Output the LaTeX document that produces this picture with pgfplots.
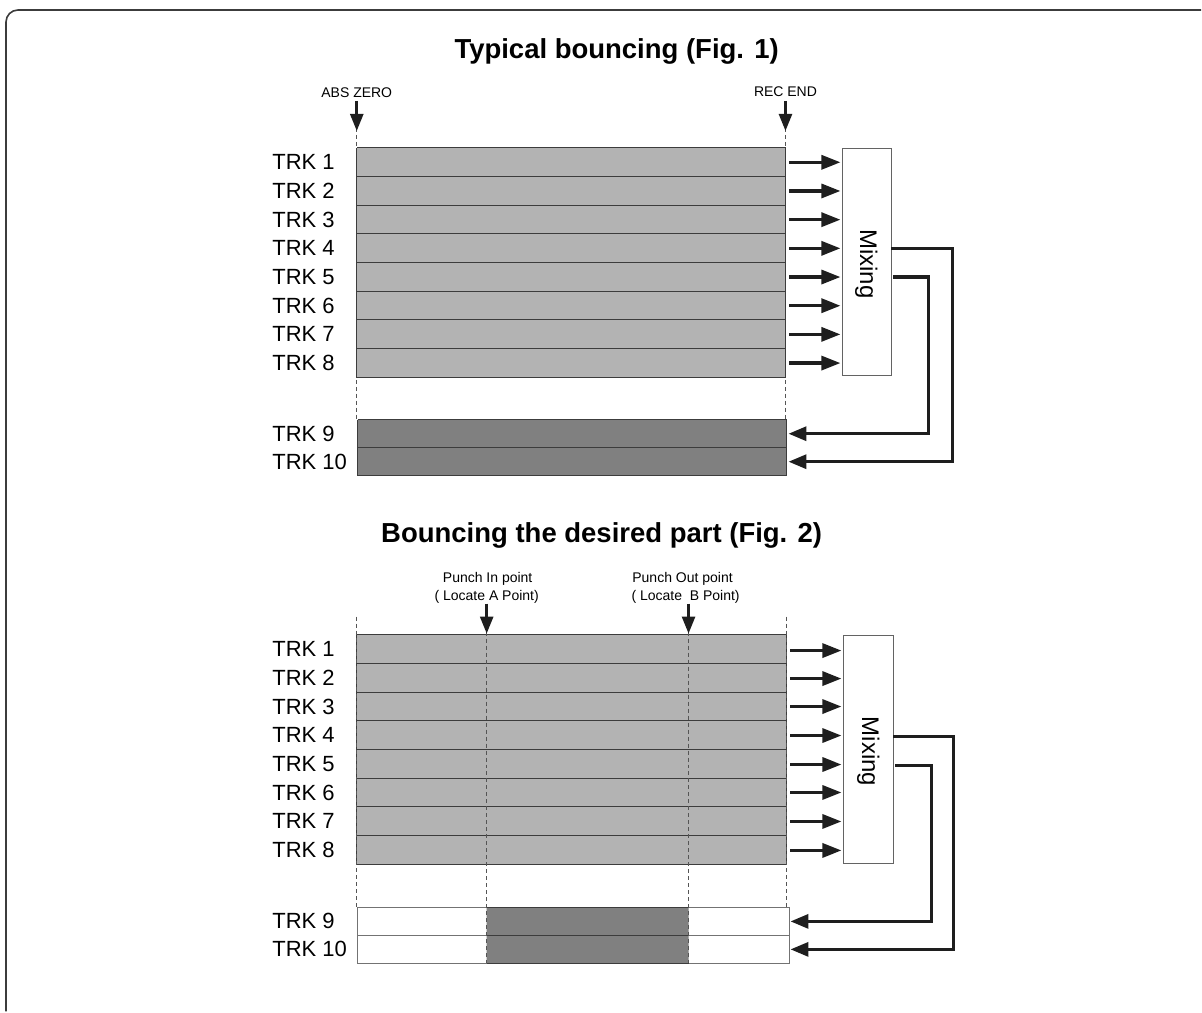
\documentclass[border=0pt]{standalone}
\usepackage{fontspec}
\setmainfont{Liberation Sans}
\usepackage{pgfplots}
\pgfplotsset{compat=1.18}
\usetikzlibrary{arrows.meta}
\definecolor{trklight}{HTML}{B3B3B3}
\definecolor{trkdark}{HTML}{808080}
\definecolor{edge}{HTML}{3C3C3C}
\definecolor{dash}{HTML}{555555}
\definecolor{arr}{HTML}{1E1E1E}
\tikzset{
  trk/.style={font=\fontsize{22}{24}\selectfont, anchor=west},
  small/.style={font=\fontsize{14}{16}\selectfont},
  ttl/.style={font=\fontsize{27.5}{32}\selectfont\bfseries},
  rowline/.style={draw=edge, line width=1pt},
  dsh/.style={draw=dash, line width=0.9pt, dash pattern=on 4pt off 3pt},
  harr/.style={draw=arr, line width=3.2pt, -{Triangle[length=19pt,width=14pt]}},
  varr/.style={draw=arr, line width=2.6pt, -{Triangle[length=17pt,width=13pt]}},
  route/.style={draw=arr, line width=3.3pt, line join=miter, -{Triangle[length=18pt,width=14pt]}},
}
\begin{document}
\begin{tikzpicture}
\begin{axis}[scale only axis, width=1202pt, height=1012pt,
  xmin=0, xmax=1202, ymin=0, ymax=1012, y dir=reverse,
  axis lines=none, clip=false,
]
% bounding box
\addplot[draw=none] coordinates {(0,0) (1202,1012)};
% frame
\addplot[draw=edge, line width=1.6pt, rounded corners=12pt] coordinates {(6,1012) (6,10) (1202,10)};

% ================= Fig. 1 =================
\node[ttl] at (axis cs:617,51.5) {Typical bouncing (Fig. 1)};
\node[small] at (axis cs:357,93) {ABS ZERO};
\node[small] at (axis cs:786,92) {REC END};
% dashed verticals
\addplot[dsh] coordinates {(357,128) (357,420)};
\addplot[dsh] coordinates {(786,128) (786,420)};
% tracks 1-8
\addplot[fill=trklight, draw=edge, line width=1pt] coordinates {(357,148) (786,148) (786,377.6) (357,377.6) (357,148)};
\addplot[rowline] coordinates {(357,176.7) (786,176.7)};
\addplot[rowline] coordinates {(357,205.4) (786,205.4)};
\addplot[rowline] coordinates {(357,234.1) (786,234.1)};
\addplot[rowline] coordinates {(357,262.8) (786,262.8)};
\addplot[rowline] coordinates {(357,291.5) (786,291.5)};
\addplot[rowline] coordinates {(357,320.2) (786,320.2)};
\addplot[rowline] coordinates {(357,348.9) (786,348.9)};
% tracks 9-10
\addplot[fill=trkdark, draw=edge, line width=1pt] coordinates {(358,420) (787,420) (787,476) (358,476) (358,420)};
\addplot[rowline] coordinates {(358,448) (787,448)};
% labels
\node[trk] at (axis cs:269,162.4) {TRK 1};
\node[trk] at (axis cs:269,191.1) {TRK 2};
\node[trk] at (axis cs:269,219.8) {TRK 3};
\node[trk] at (axis cs:269,248.5) {TRK 4};
\node[trk] at (axis cs:269,277.2) {TRK 5};
\node[trk] at (axis cs:269,305.9) {TRK 6};
\node[trk] at (axis cs:269,334.6) {TRK 7};
\node[trk] at (axis cs:269,363.3) {TRK 8};
\node[trk] at (axis cs:269,434) {TRK 9};
\node[trk] at (axis cs:269,462) {TRK 10};
% vertical arrows
\addplot[varr] coordinates {(357,101) (357,131)};
\addplot[varr] coordinates {(786,101) (786,131)};
% arrows into mixing
\addplot[harr] coordinates {(790,162.4) (841,162.4)};
\addplot[harr] coordinates {(790,191.1) (841,191.1)};
\addplot[harr] coordinates {(790,219.8) (841,219.8)};
\addplot[harr] coordinates {(790,248.5) (841,248.5)};
\addplot[harr] coordinates {(790,277.2) (841,277.2)};
\addplot[harr] coordinates {(790,305.9) (841,305.9)};
\addplot[harr] coordinates {(790,334.6) (841,334.6)};
\addplot[harr] coordinates {(790,363.3) (841,363.3)};
% mixing box
\addplot[fill=white, draw=edge!80, line width=1pt] coordinates {(843,149) (892,149) (892,376) (843,376) (843,149)};
\node[rotate=-90, font=\fontsize{24}{26}\selectfont] at (axis cs:867,264) {Mixing};
% routing
\addplot[route] coordinates {(892,248.5) (953,248.5) (953,462) (789,462)};
\addplot[route] coordinates {(894,277.2) (929,277.2) (929,434) (789,434)};

% ================= Fig. 2 =================
\node[ttl] at (axis cs:602,536) {Bouncing the desired part (Fig. 2)};
\node[small] at (axis cs:488,579) {Punch In point};
\node[small] at (axis cs:487,597) {( Locate A Point)};
\node[small] at (axis cs:683,579) {Punch Out point};
\node[small] at (axis cs:686,597) {( Locate \ B Point)};
% tracks 1-8
\addplot[fill=trklight, draw=edge, line width=1pt] coordinates {(357,635) (787,635) (787,865) (357,865) (357,635)};
\addplot[rowline] coordinates {(357,663.75) (787,663.75)};
\addplot[rowline] coordinates {(357,692.5) (787,692.5)};
\addplot[rowline] coordinates {(357,721.25) (787,721.25)};
\addplot[rowline] coordinates {(357,750) (787,750)};
\addplot[rowline] coordinates {(357,778.75) (787,778.75)};
\addplot[rowline] coordinates {(357,807.5) (787,807.5)};
\addplot[rowline] coordinates {(357,836.25) (787,836.25)};
% tracks 9-10
\addplot[fill=trkdark, draw=none] coordinates {(487,908) (689,908) (689,964) (487,964) (487,908)};
\addplot[draw=gray!90!black, line width=1pt] coordinates {(358,908) (790,908) (790,964) (358,964) (358,908)};
\addplot[draw=gray!90!black, line width=1pt] coordinates {(358,936) (790,936)};
\addplot[draw=edge, line width=1pt] coordinates {(487,908) (689,908)};
\addplot[draw=edge, line width=1pt] coordinates {(487,936) (689,936)};
\addplot[draw=edge, line width=1pt] coordinates {(487,964) (689,964)};
% dashed verticals
\addplot[dsh] coordinates {(357,617) (357,908)};
\addplot[dsh] coordinates {(787,617) (787,908)};
\addplot[dsh] coordinates {(487,632) (487,964)};
\addplot[dsh] coordinates {(689,632) (689,964)};
% labels
\node[trk] at (axis cs:269,649.4) {TRK 1};
\node[trk] at (axis cs:269,678.1) {TRK 2};
\node[trk] at (axis cs:269,706.9) {TRK 3};
\node[trk] at (axis cs:269,735.6) {TRK 4};
\node[trk] at (axis cs:269,764.4) {TRK 5};
\node[trk] at (axis cs:269,793.1) {TRK 6};
\node[trk] at (axis cs:269,821.9) {TRK 7};
\node[trk] at (axis cs:269,850.6) {TRK 8};
\node[trk] at (axis cs:269,922) {TRK 9};
\node[trk] at (axis cs:269,950) {TRK 10};
% vertical arrows
\addplot[varr] coordinates {(487,604) (487,634)};
\addplot[varr] coordinates {(689,604) (689,634)};
% arrows into mixing
\addplot[harr] coordinates {(791,651) (842,651)};
\addplot[harr] coordinates {(791,679) (842,679)};
\addplot[harr] coordinates {(791,707) (842,707)};
\addplot[harr] coordinates {(791,736) (842,736)};
\addplot[harr] coordinates {(791,765) (842,765)};
\addplot[harr] coordinates {(791,793) (842,793)};
\addplot[harr] coordinates {(791,822) (842,822)};
\addplot[harr] coordinates {(791,851) (842,851)};
% mixing box
\addplot[fill=white, draw=edge!80, line width=1pt] coordinates {(844,636) (894,636) (894,864) (844,864) (844,636)};
\node[rotate=-90, font=\fontsize{24}{26}\selectfont] at (axis cs:869,752) {Mixing};
% routing
\addplot[route] coordinates {(894,737) (954,737) (954,950) (791,950)};
\addplot[route] coordinates {(896,766) (932,766) (932,922) (791,922)};
\end{axis}
\end{tikzpicture}
\end{document}
